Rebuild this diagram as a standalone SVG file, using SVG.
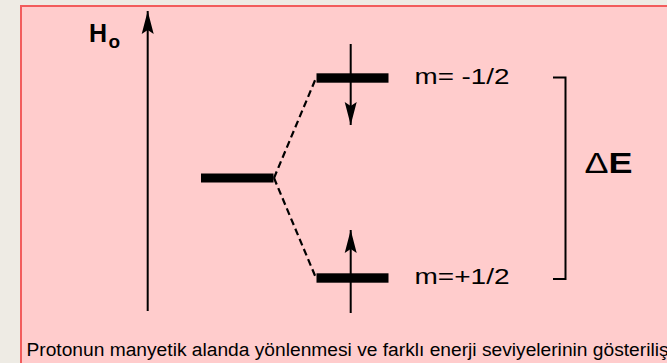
<svg xmlns="http://www.w3.org/2000/svg" width="667" height="363" viewBox="0 0 667 363">
  <style>
    .lvl { fill: #000; }
    .shaft { stroke: #000; stroke-width: 2; fill: none; }
    .dash { stroke: #000; stroke-width: 2.2; fill: none; stroke-dasharray: 7 4; }
    .lbl { font-family: "Liberation Sans", Arial, sans-serif; fill: #000; }
  </style>
  <defs>
    <marker id="head" markerUnits="userSpaceOnUse" markerWidth="30" markerHeight="16" viewBox="-25 -8 27 16" refX="0" refY="0" orient="auto">
      <path d="M0,0 L-23,-6 L-19,0 L-23,6 Z" fill="#000"/>
    </marker>
  </defs>
  <rect x="0" y="0" width="667" height="363" fill="#EEEBE4"/>
  <rect x="21" y="6" width="660" height="370" fill="#FFCCCC" stroke="#F25C5C" stroke-width="2"/>

  <g id="field-axis">
    <line class="shaft" x1="147.7" y1="311" x2="147.7" y2="11" marker-end="url(#head)"/>
    <text class="lbl" x="89" y="41.5" font-size="25" font-weight="bold">H</text>
    <text class="lbl" x="108.5" y="48" font-size="19" font-weight="bold">o</text>
  </g>

  <g id="level-zero">
    <rect class="lvl" x="201" y="173.5" width="72.5" height="9"/>
  </g>

  <g id="level-upper">
    <rect class="lvl" x="316.5" y="73.3" width="72" height="9.4"/>
    <line class="shaft" x1="350.7" y1="44" x2="350.7" y2="125" marker-end="url(#head)"/>
    <text class="lbl" x="414.5" y="84.3" font-size="22" textLength="95" lengthAdjust="spacingAndGlyphs">m= -1/2</text>
  </g>

  <g id="level-lower">
    <rect class="lvl" x="316.5" y="273.3" width="72" height="9.4"/>
    <line class="shaft" x1="350.7" y1="313" x2="350.7" y2="230" marker-end="url(#head)"/>
    <text class="lbl" x="414.5" y="284.3" font-size="22" textLength="95" lengthAdjust="spacingAndGlyphs">m=+1/2</text>
  </g>

  <g id="delta-e">
    <path class="shaft" d="M553,77.5 H565.5 V279 H553"/>
    <text class="lbl" x="584.5" y="173" font-size="29" textLength="48" lengthAdjust="spacingAndGlyphs"><tspan>Δ</tspan><tspan font-weight="bold">E</tspan></text>
  </g>

  <g id="connectors">
    <path class="dash" d="M274,178 L316,78"/>
    <path class="dash" d="M274,178 L316,278"/>
  </g>

  <g id="caption">
    <text class="lbl" x="26.5" y="356" font-size="19.2">Protonun manyetik alanda yönlenmesi ve farklı enerji seviyelerinin gösterilişi</text>
  </g>
</svg>
